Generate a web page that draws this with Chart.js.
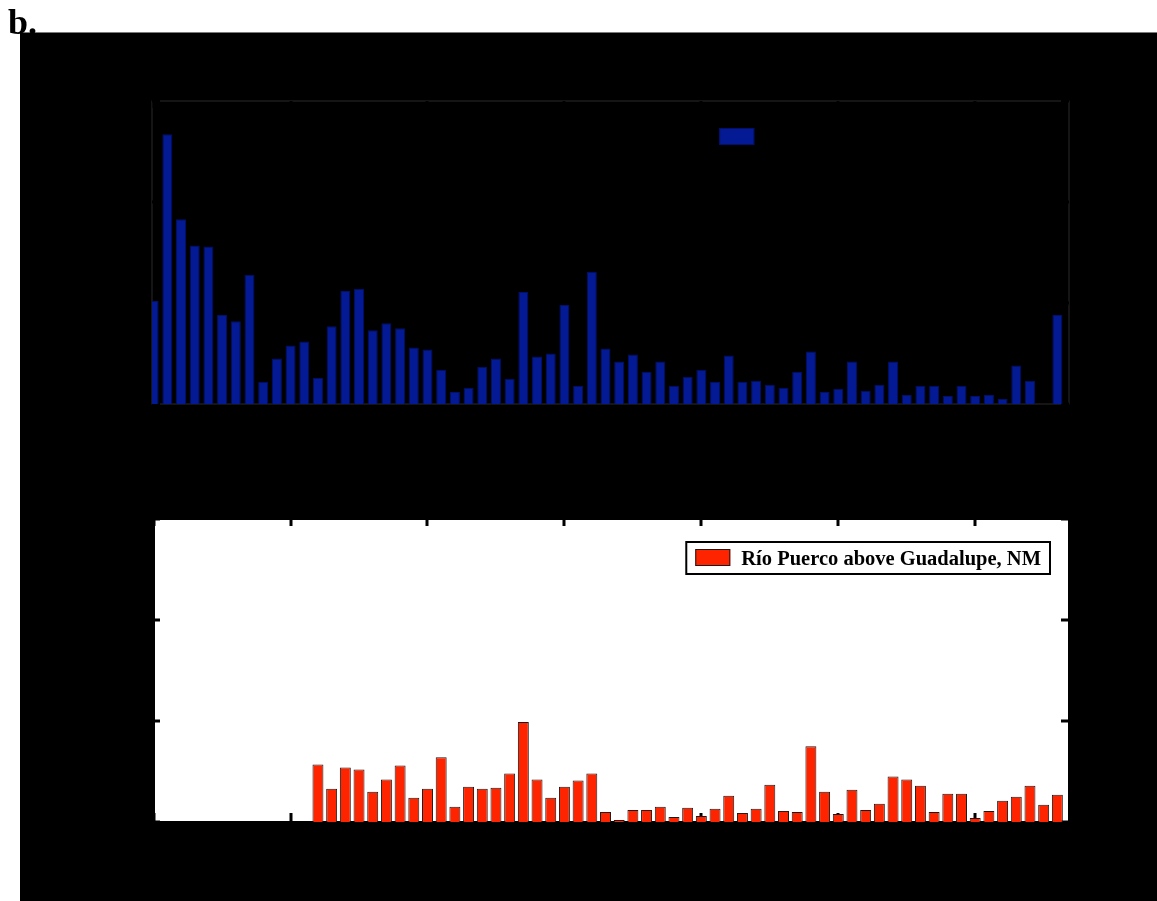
<!DOCTYPE html>
<html>
<head>
<meta charset="utf-8">
<script src="https://cdn.jsdelivr.net/npm/chart.js@4/dist/chart.umd.min.js"></script>
<style>
  html, body { margin: 0; padding: 0; background: #fff; }
  body { position: relative; width: 1157px; height: 901px; overflow: hidden; }
  #backdrop { position: absolute; left: 20px; top: 32px; width: 1137px; height: 868px; background: #000; border-top: 1px solid #7a7a7a; }
  canvas { position: absolute; left: 0; }
  #panelLabel { position: absolute; left: 8px; top: 4px; font: bold 36px "Liberation Serif", serif; line-height: 36px; color: #000; z-index: 3; }
</style>
</head>
<body>
<div id="backdrop"></div>
<canvas id="upperChart" width="1157" height="460" style="top:0"></canvas>
<canvas id="lowerChart" width="1157" height="441" style="top:460px"></canvas>
<div id="panelLabel">b.</div>
<script>
const years = [
  1940, 1941, 1942, 1943, 1944, 1945, 1946, 1947, 1948, 1949,
  1950, 1951, 1952, 1953, 1954, 1955, 1956, 1957, 1958, 1959,
  1960, 1961, 1962, 1963, 1964, 1965, 1966, 1967, 1968, 1969,
  1970, 1971, 1972, 1973, 1974, 1975, 1976, 1977, 1978, 1979,
  1980, 1981, 1982, 1983, 1984, 1985, 1986, 1987, 1988, 1989,
  1990, 1991, 1992, 1993, 1994, 1995, 1996, 1997, 1998, 1999,
  2000, 2001, 2002, 2003, 2004, 2005, 2006
];

// Río Puerco near Bernardo (upper panel)
const bernardoPeaks = [
  102, 267, 183, 157, 156, 88, 82, 128, 22, 45,
  58, 62, 26, 77, 112, 114, 73, 80, 75, 56,
  54, 34, 12, 16, 37, 45, 25, 111, 47, 50,
  98, 18, 131, 55, 42, 49, 32, 42, 18, 27,
  34, 22, 48, 22, 23, 19, 16, 32, 52, 12,
  15, 42, 13, 19, 42, 9, 18, 18, 8, 18,
  8, 9, 5, 38, 23, null, 88
];

// Río Puerco above Guadalupe (lower panel), record starts 1952
const guadalupePeaks = [
  null, null, null, null, null, null, null, null, null, null,
  null, null, 57, 33, 54, 52, 30, 42, 56, 24,
  33, 64, 15, 35, 33, 34, 48, 99, 42, 24,
  35, 41, 48, 10, 2, 12, 12, 15, 5, 14,
  6, 13, 26, 9, 13, 37, 11, 10, 75, 30,
  8, 32, 12, 18, 45, 42, 36, 10, 28, 28,
  4, 11, 21, 25, 36, 17, 27
];

const xTicks = { min: 1939.88, max: 2006.85, step: 10 };
const yTicks = { min: 0, max: 300, step: 100 };

function points(values) {
  return years.map((yr, i) => ({ x: yr, y: values[i] }));
}

// panel background, border, inward tick marks and boxed legend
const panelFrame = {
  id: 'panelFrame',
  beforeDatasetsDraw(chart, args, opts) {
    const { ctx, chartArea: a, scales: { x, y } } = chart;
    ctx.save();
    if (opts.fill) {
      ctx.fillStyle = opts.fill;
      ctx.fillRect(a.left + 3, a.top, a.right - a.left - 3, a.bottom - a.top - 1);
    }
    ctx.strokeStyle = opts.borderColor;
    ctx.lineWidth = opts.borderWidth;
    ctx.strokeRect(a.left, a.top, a.right - a.left, a.bottom - a.top);
    ctx.strokeStyle = '#000';
    ctx.lineWidth = 3;
    ctx.beginPath();
    x.ticks.forEach((t) => {
      const px = Math.round(x.getPixelForValue(t.value));
      ctx.moveTo(px, a.top); ctx.lineTo(px, a.top + 7);
      ctx.moveTo(px, a.bottom); ctx.lineTo(px, a.bottom - 9);
    });
    y.ticks.forEach((t) => {
      const py = Math.round(y.getPixelForValue(t.value));
      ctx.moveTo(a.left, py); ctx.lineTo(a.left + 8, py);
      ctx.moveTo(a.right, py); ctx.lineTo(a.right - 8, py);
    });
    ctx.stroke();
    ctx.restore();
  },
  afterDatasetsDraw(chart, args, opts) {
    const { ctx, chartArea: a } = chart;
    const ds = chart.data.datasets[0];
    ctx.save();
    ctx.font = 'bold 20.5px "Liberation Serif", serif';
    const textW = ctx.measureText(ds.label).width;
    const boxW = 9 + 35 + 11 + textW + 9;
    const boxH = 32;
    const left = a.right - 19 - boxW;
    const top = a.top + opts.legendTop;
    ctx.fillStyle = opts.legendFill;
    ctx.fillRect(left, top, boxW, boxH);
    ctx.strokeStyle = '#000';
    ctx.lineWidth = 2;
    ctx.strokeRect(left, top, boxW, boxH);
    ctx.fillStyle = ds.backgroundColor;
    ctx.fillRect(left + 9, top + 7, 35, 17);
    ctx.lineWidth = 1;
    ctx.strokeStyle = ds.borderColor;
    ctx.strokeRect(left + 9.5, top + 7.5, 34, 16);
    ctx.fillStyle = '#000';
    ctx.textBaseline = 'alphabetic';
    ctx.fillText(ds.label, left + 55, top + 23);
    ctx.restore();
  }
};

function panelOptions(padTop, axisHeight, frame) {
  return {
    responsive: false,
    animation: false,
    events: [],
    layout: { padding: { top: padTop, right: 88, left: 0, bottom: 0 } },
    plugins: {
      legend: { display: false },
      tooltip: { enabled: false },
      panelFrame: frame
    },
    scales: {
      x: {
        type: 'linear',
        offset: false,
        min: xTicks.min,
        max: xTicks.max,
        grid: { display: false },
        border: { display: false },
        ticks: { display: false, stepSize: xTicks.step, includeBounds: false },
        afterFit(scale) { scale.height = axisHeight; }
      },
      y: {
        min: yTicks.min,
        max: yTicks.max,
        grid: { display: false },
        border: { display: false },
        ticks: { display: false, stepSize: yTicks.step },
        afterFit(scale) { scale.width = 152; }
      }
    }
  };
}

new Chart(document.getElementById('upperChart').getContext('2d'), {
  type: 'bar',
  data: {
    datasets: [{
      label: 'Río Puerco near Bernardo, NM',
      data: points(bernardoPeaks),
      backgroundColor: '#041a94',
      borderColor: '#02106a',
      borderWidth: 1,
      barPercentage: 0.73,
      categoryPercentage: 1
    }]
  },
  options: panelOptions(101, 56, { fill: null, borderColor: '#2a2a2a', borderWidth: 1, legendTop: 20, legendFill: '#000' }),
  plugins: [panelFrame]
});

new Chart(document.getElementById('lowerChart').getContext('2d'), {
  type: 'bar',
  data: {
    datasets: [{
      label: 'Río Puerco above Guadalupe, NM',
      data: points(guadalupePeaks),
      backgroundColor: '#ff2400',
      borderColor: '#1a1a1a',
      borderWidth: 1,
      barPercentage: 0.8,
      categoryPercentage: 1
    }]
  },
  options: panelOptions(59, 79, { fill: '#fff', borderColor: '#000', borderWidth: 2, legendTop: 23, legendFill: '#fff' }),
  plugins: [panelFrame]
});
</script>
</body>
</html>
